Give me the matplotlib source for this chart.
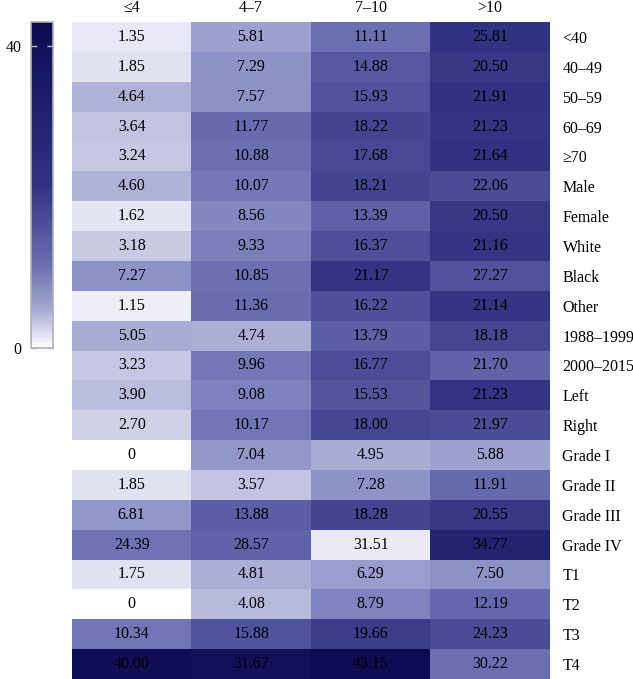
import matplotlib
matplotlib.use("Agg")
import matplotlib.pyplot as plt
import numpy as np
from matplotlib.colors import LinearSegmentedColormap, Normalize

plt.rcParams["font.family"] = ["Liberation Serif", "DejaVu Serif"]

COLUMNS = ["≤4", "4–7", "7–10", ">10"]
ROWS = [
    "<40", "40–49", "50–59", "60–69", "≥70", "Male", "Female", "White",
    "Black", "Other", "1988–1999", "2000–2015", "Left", "Right",
    "Grade I", "Grade II", "Grade III", "Grade IV", "T1", "T2", "T3", "T4",
]

# numbers printed in the cells
VALUES = [
    [1.35, 5.81, 11.11, 25.81],
    [1.85, 7.29, 14.88, 20.50],
    [4.64, 7.57, 15.93, 21.91],
    [3.64, 11.77, 18.22, 21.23],
    [3.24, 10.88, 17.68, 21.64],
    [4.60, 10.07, 18.21, 22.06],
    [1.62, 8.56, 13.39, 20.50],
    [3.18, 9.33, 16.37, 21.16],
    [7.27, 10.85, 21.17, 27.27],
    [1.15, 11.36, 16.22, 21.14],
    [5.05, 4.74, 13.79, 18.18],
    [3.23, 9.96, 16.77, 21.70],
    [3.90, 9.08, 15.53, 21.23],
    [2.70, 10.17, 18.00, 21.97],
    [0, 7.04, 4.95, 5.88],
    [1.85, 3.57, 7.28, 11.91],
    [6.81, 13.88, 18.28, 20.55],
    [24.39, 28.57, 31.51, 34.77],
    [1.75, 4.81, 6.29, 7.50],
    [0, 4.08, 8.79, 12.19],
    [10.34, 15.88, 19.66, 24.23],
    [40.00, 31.67, 43.15, 30.22],
]

# shade of each cell (does not always follow the number)
SHADE = [
    [1.35, 5.81, 11.11, 21.5],
    [1.85, 7.29, 14.88, 20.50],
    [4.64, 7.57, 15.93, 21.91],
    [3.64, 11.77, 18.22, 21.23],
    [3.24, 10.88, 17.68, 21.64],
    [4.60, 10.07, 18.21, 17.0],
    [1.62, 8.56, 13.39, 20.50],
    [3.18, 9.33, 16.37, 21.16],
    [7.27, 10.85, 21.17, 16.0],
    [1.15, 11.36, 16.22, 21.14],
    [5.05, 4.74, 13.79, 18.18],
    [3.23, 9.96, 16.77, 13.0],
    [3.90, 9.08, 15.53, 21.23],
    [2.70, 10.17, 18.00, 17.0],
    [0, 7.04, 4.95, 5.88],
    [1.85, 3.57, 7.28, 11.91],
    [6.81, 13.88, 18.28, 20.55],
    [10.5, 13.0, 1.3, 30.0],
    [1.75, 4.81, 6.29, 7.50],
    [0, 4.08, 8.79, 12.19],
    [10.34, 15.88, 19.66, 17.0],
    [42.0, 40.0, 43.15, 11.0],
]

VMIN, VMAX = 0, 43.15
CBAR_TICKS = [0, 40]

cmap = LinearSegmentedColormap.from_list(
    "navy_light",
    [
        (0.00, "#ffffff"),
        (0.12, "#a4a7d2"),
        (0.25, "#6c70b2"),
        (0.50, "#2f3381"),
        (0.75, "#1d1e6c"),
        (1.00, "#0f0b52"),
    ],
)


def fmt(v: float) -> str:
    return "0" if v == 0 else f"{v:.2f}"


def main() -> None:
    W, H = 633, 679
    fig = plt.figure(figsize=(W / 100, H / 100), dpi=100)

    ax = fig.add_axes([72 / W, 0, (550 - 72) / W, (679 - 22) / H])
    shade = np.array(SHADE)
    norm = Normalize(vmin=VMIN, vmax=VMAX)
    mesh = ax.pcolormesh(shade, cmap=cmap, norm=norm)
    ax.set_xlim(0, len(COLUMNS))
    ax.set_ylim(len(ROWS), 0)

    for i, row in enumerate(VALUES):
        for j, v in enumerate(row):
            ax.text(j + 0.5, i + 0.5, fmt(v), ha="center", va="center", fontsize=11.5, color="black")

    ax.set_xticks(np.arange(len(COLUMNS)) + 0.5)
    ax.set_xticklabels(COLUMNS, fontsize=11.5)
    ax.xaxis.tick_top()
    ax.set_yticks(np.arange(len(ROWS)) + 0.5)
    ax.set_yticklabels(ROWS, fontsize=11.5)
    ax.yaxis.tick_right()
    ax.tick_params(axis="x", length=0, pad=4)
    ax.tick_params(axis="y", length=0, pad=9)
    for s in ax.spines.values():
        s.set_visible(False)

    cax = fig.add_axes([31 / W, (679 - 348) / H, 22 / W, 326 / H])
    cb = fig.colorbar(mesh, cax=cax)
    cb.set_ticks(CBAR_TICKS)
    cb.outline.set_edgecolor("#b0b0b0")
    cb.outline.set_linewidth(1.2)
    cax.yaxis.set_ticks_position("both")
    cax.tick_params(axis="y", direction="in", length=4, color="#b8b8b8", width=1,
                    labelleft=True, labelright=False, labelsize=11.5, pad=7)

    fig.savefig("out.png", dpi=100)
    plt.close(fig)


if __name__ == "__main__":
    main()
